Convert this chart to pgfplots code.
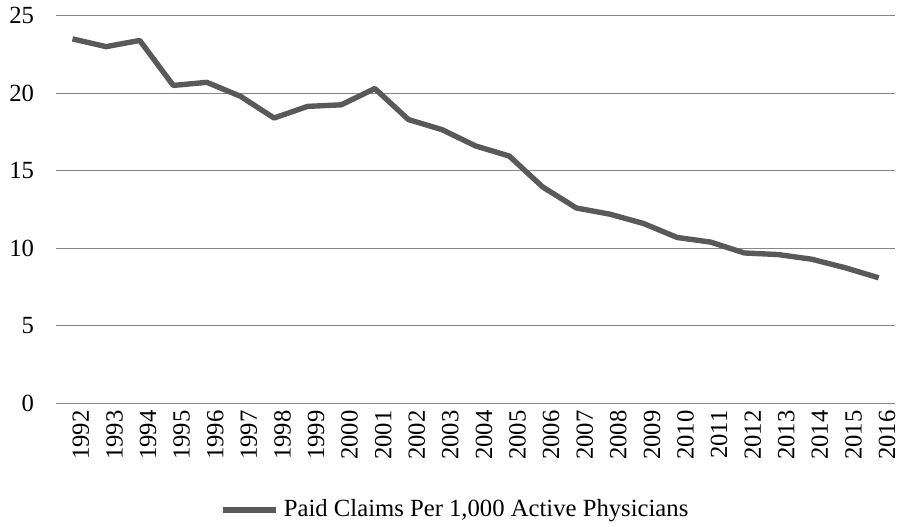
\documentclass[border=0pt]{standalone}
\usepackage{fontspec}
\setmainfont{Liberation Serif}
\usepackage{pgfplots}
\pgfplotsset{compat=1.18}
\definecolor{lineclr}{RGB}{89,89,89}
\definecolor{gridclr}{RGB}{134,134,134}
\begin{document}
\begin{tikzpicture}
\begin{axis}[
  scale only axis,
  width=422pt, height=194.9pt,
  xmin=-0.5, xmax=24.5,
  ymin=0, ymax=25,
  ytick={0,5,10,15,20,25},
  xtick={0,...,24},
  xticklabels={1992,1993,1994,1995,1996,1997,1998,1999,2000,2001,2002,2003,2004,2005,2006,2007,2008,2009,2010,2011,2012,2013,2014,2015,2016},
  axis line style={draw=none},
  major tick style={draw=none},
  ymajorgrids,
  grid style={gridclr, line width=0.6pt},
  /pgf/number format/assume math mode=true,
  ticklabel style={font=\fontsize{12.4}{14}\selectfont},
  yticklabel style={xshift=-7.4pt},
  xticklabel style={rotate=90, anchor=east, yshift=-4.2pt},
  legend style={at={(0.195,-0.2745)}, anchor=west, draw=none, font=\fontsize{12.4}{14}\selectfont, inner sep=0pt, nodes={inner sep=2.5pt}},
  legend image code/.code={\draw[#1, line width=2.7pt] (0pt,0pt) -- (27pt,0pt);},
]
\addplot[lineclr, line width=2.7pt, line join=round] coordinates {
(0,23.5) (1,23.0) (2,23.4) (3,20.5) (4,20.7) (5,19.8) (6,18.4) (7,19.15) (8,19.25) (9,20.3)
(10,18.3) (11,17.65) (12,16.6) (13,15.95) (14,13.95) (15,12.6) (16,12.2) (17,11.6) (18,10.7) (19,10.4)
(20,9.7) (21,9.6) (22,9.3) (23,8.75) (24,8.1)
};
\addlegendentry{Paid Claims Per 1,000 Active Physicians}
\end{axis}
\path (-28pt,-61.75pt) rectangle (423pt,202.75pt);
\end{tikzpicture}
\end{document}
